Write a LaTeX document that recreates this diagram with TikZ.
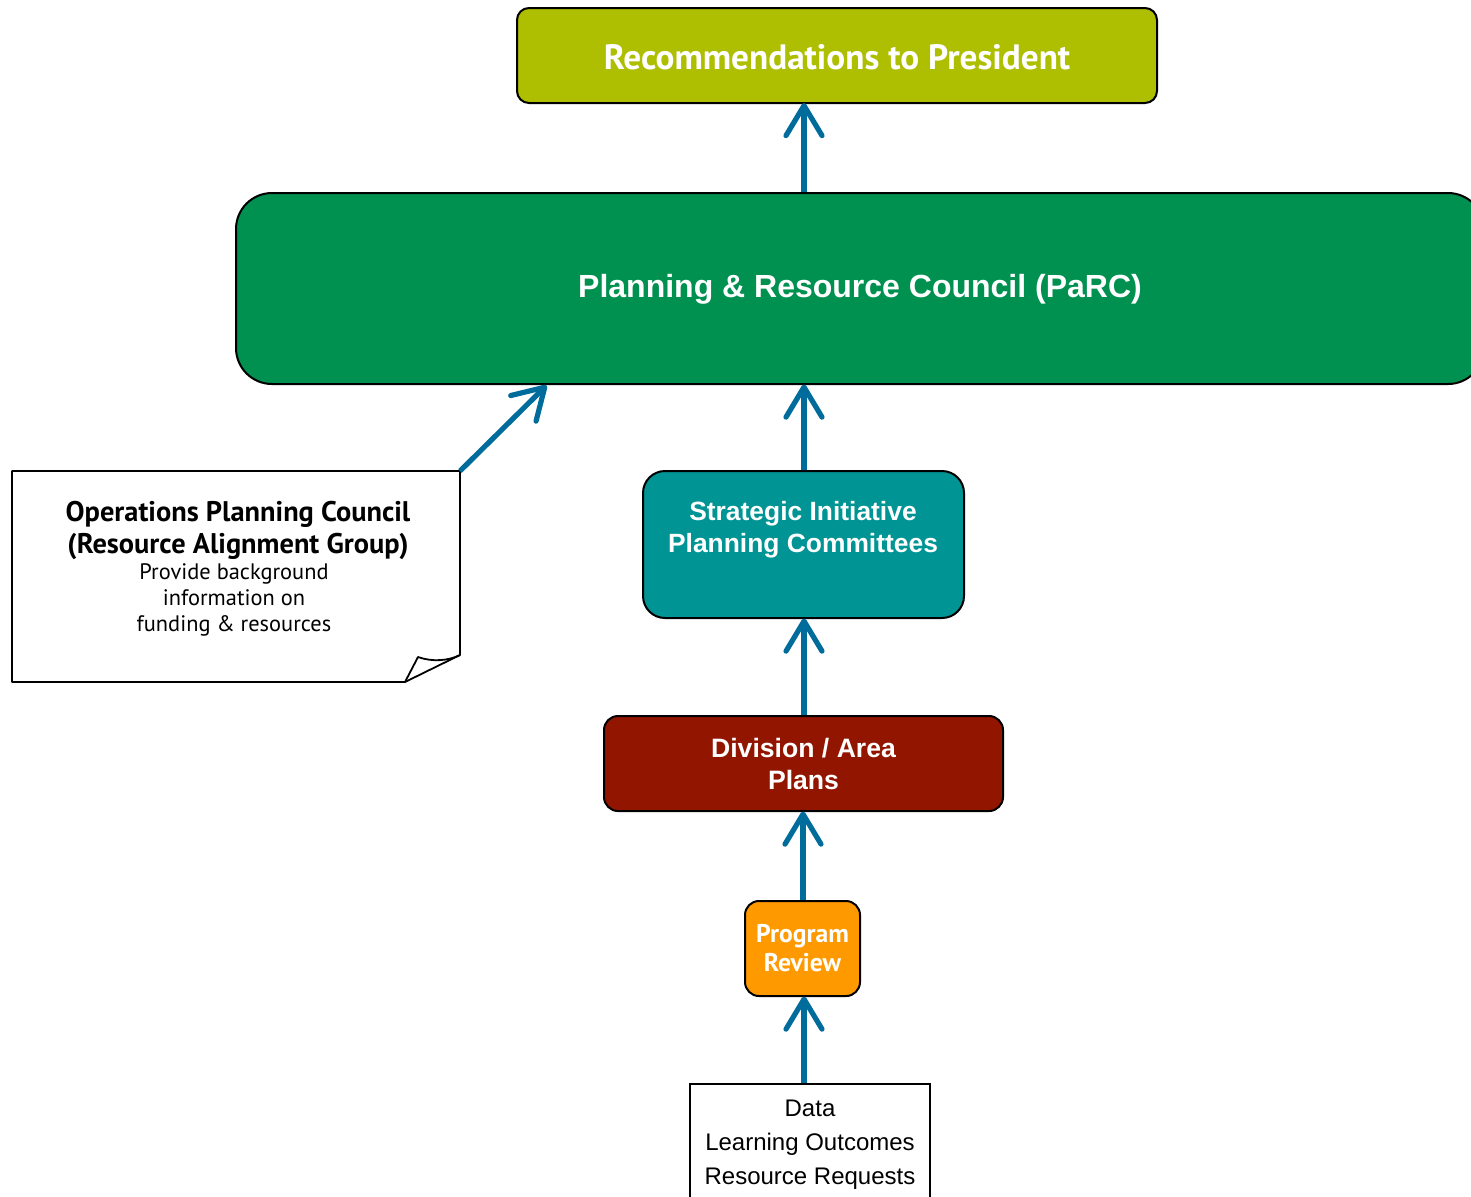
\documentclass[tikz,border=0pt]{standalone}
\usepackage{fontspec}
\usetikzlibrary{arrows.meta}
\newfontfamily\tah{PT Sans}
\newfontfamily\ari{Liberation Sans}
\definecolor{cTop}{RGB}{174,190,0}
\definecolor{cParc}{RGB}{0,145,80}
\definecolor{cTeal}{RGB}{0,148,148}
\definecolor{cDiv}{RGB}{146,21,0}
\definecolor{cOrg}{RGB}{255,153,0}
\definecolor{cArr}{RGB}{0,108,156}
\tikzset{
  boxst/.style={draw=black, line width=1pt, rectangle, inner sep=0pt, align=center, text=white},
  flow/.style={draw=cArr, line width=2.6pt, -{Straight Barb[length=15pt,width=18pt,line cap=round,line join=round]}},
}
\begin{document}
\begin{tikzpicture}[x=0.5pt,y=-0.5pt]
\useasboundingbox (0,0) rectangle (1471,1196);
\clip (0,0) rectangle (1471,1196);

% top box
\node[boxst, fill=cTop, rounded corners=6pt, minimum width=320pt, minimum height=47.5pt] (pres) at (837,55.5) {};
\node[font={\tah\bfseries\fontsize{17.6}{20}\selectfont}, text=white] (prest) at (837,57) {Recommendations to President};

% PaRC
\node[boxst, fill=cParc, rounded corners=18pt, minimum width=624pt, minimum height=95.5pt] (parc) at (860,288.5) {};
\node[font={\ari\bfseries\fontsize{16}{19}\selectfont}, text=white] (parct) at (860,289) {Planning \& Resource Council (PaRC)};

% Strategic
\node[boxst, fill=cTeal, rounded corners=11pt, minimum width=160.5pt, minimum height=73.5pt] (sipc) at (803.5,544.5) {};
\node[font={\ari\bfseries\fontsize{13.2}{16}\selectfont}, text=white, align=center] (sipct) at (803,530) {Strategic Initiative\\Planning Committees};

% Division
\node[boxst, fill=cDiv, rounded corners=7pt, minimum width=199.5pt, minimum height=47.5pt,
      font={\ari\bfseries\fontsize{13.3}{16}\selectfont}] (div) at (803.5,763.5) {Division / Area\\Plans};

% Program review
\node[boxst, fill=cOrg, rounded corners=7pt, minimum width=57.5pt, minimum height=47.5pt,
      font={\tah\bfseries\fontsize{12.8}{14.5}\selectfont}] (prog) at (802.5,948.5) {Program\\Review};

% Data box
\node[draw=black, line width=0.9pt, fill=white, minimum width=120pt, minimum height=64pt, inner sep=0pt] (data) at (810,1148) {};
\node[font={\ari\fontsize{12}{17}\selectfont}, align=center] (datat) at (810,1145) {Data\\Learning Outcomes\\Resource Requests};

% Note
\coordinate (nTL) at (12,471);
\coordinate (nTR) at (460,471);
\coordinate (nR) at (460,655);
\coordinate (nB) at (405,682);
\coordinate (nBL) at (12,682);
\coordinate (nF) at (418,657);
\draw[line width=0.9pt, fill=white, line join=round] (nTL) -- (nTR) -- (nR) -- (nB) -- (nBL) -- cycle;
\draw[line width=0.9pt, line join=round] (nB) -- (nF) .. controls (432,662) and (448,661) .. (nR);
\node[font={\tah\bfseries\fontsize{14.2}{16}\selectfont}, align=center] (notet) at (238,530) {Operations Planning Council\\(Resource Alignment Group)};
\node[font={\tah\fontsize{11.2}{12.8}\selectfont}, align=center] (noteb) at (234,600) {Provide background\\information on\\funding \& resources};

% arrows
\coordinate (parcin) at (548,384);
\draw[flow] (804,192) -- (804,103);
\draw[flow] (sipc.north -| 804,0) -- (804,384.5);
\draw[flow] (div.north -| 804,0) -- (804,618.5);
\draw[flow] (prog.north -| 803,0) -- (803,811.5);
\draw[flow] (data.north -| 804,0) -- (804,996.5);
\draw[flow, shorten >=1pt] (nTR) -- (parcin);
\end{tikzpicture}
\end{document}
